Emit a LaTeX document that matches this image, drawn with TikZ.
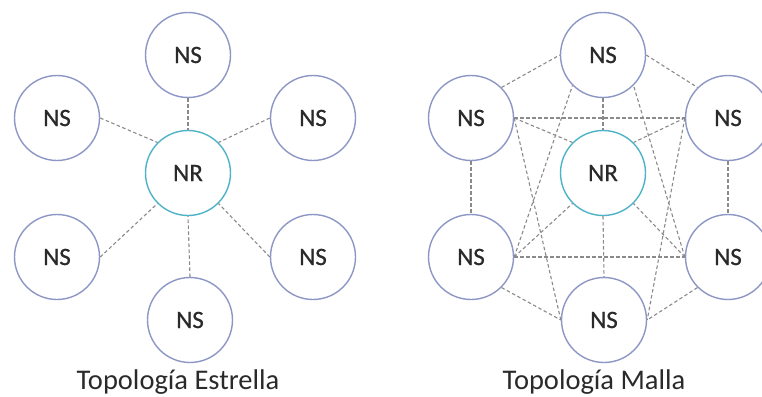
\documentclass[tikz,border=0pt]{standalone}
\usepackage{fontspec}
\setmainfont{Carlito}
\newfontfamily\labelfont[FakeBold=0.6]{Carlito}
\definecolor{nsline}{HTML}{8D97C6}
\definecolor{nrline}{HTML}{4FB3C8}
\definecolor{dashc}{HTML}{8A8A8A}
\definecolor{txt}{HTML}{2A2A2A}
\begin{document}
\begin{tikzpicture}[x=1pt,y=-1pt,
  nsnode/.style={circle,draw=nsline,line width=1.4pt,fill=white,minimum size=85pt,inner sep=0pt,font=\labelfont\fontsize{25}{27}\selectfont,text=txt},
  nrnode/.style={nsnode,draw=nrline},
  link/.style={draw=dashc,line width=1.1pt,dash pattern=on 3.5pt off 2.5pt},
  title/.style={font=\fontsize{28.5}{32}\selectfont,text=txt,anchor=base}]
\useasboundingbox (0,0) rectangle (762,396);
% Star
\node[nsnode] (sT) at (188,55) {NS};
\node[nsnode] (sUL) at (57,118) {NS};
\node[nsnode] (sUR) at (313,118) {NS};
\node[nsnode] (sLL) at (57,257) {NS};
\node[nsnode] (sLR) at (313,257) {NS};
\node[nsnode] (sB) at (190,320) {NS};
\node[nrnode] (sNR) at (188,173) {NR};
\draw[link] (sT.south) -- (sNR.north);
\draw[link] (sUL.east) -- (sNR.north west);
\draw[link] (sUR.west) -- (sNR.north east);
\draw[link] (sLL.east) -- (sNR.south west);
\draw[link] (sLR.west) -- (sNR.south east);
\draw[link] (sB.north) -- (sNR.south);
\node[title] (stitle) at (178,389) {Topología Estrella};
% Mesh
\node[nsnode] (mT) at (603,55) {NS};
\node[nsnode] (mUL) at (471,118) {NS};
\node[nsnode] (mUR) at (728,118) {NS};
\node[nsnode] (mLL) at (471,257) {NS};
\node[nsnode] (mLR) at (728,257) {NS};
\node[nsnode] (mB) at (604,320) {NS};
\node[nrnode] (mNR) at (603,173) {NR};
\draw[link] (mUL.north east) -- (mT.west);
\draw[link] (mT.east) -- (mUR.north west);
\draw[link] (mUL.east) -- (mUR.west);
\draw[link] (mUL.east) -- (mNR.north west);
\draw[link] (mUR.west) -- (mNR.north east);
\draw[link] (mT.south) -- (mNR.north);
\draw[link] (mUL.south) -- (mLL.north);
\draw[link] (mUR.south) -- (mLR.north);
\draw[link] (mLL.east) -- (mLR.west);
\draw[link] (mLL.east) -- (mNR.south west);
\draw[link] (mLR.west) -- (mNR.south east);
\draw[link] (mNR.south) -- (mB.north);
\draw[link] (mLL.south east) -- (mB.west);
\draw[link] (mLR.south west) -- (mB.east);
\draw[link] (mUL.east) -- (mB.west);
\draw[link] (mUR.west) -- (mB.east);
\draw[link] (mLL.east) -- (mT.south west);
\draw[link] (mLR.west) -- (mT.south east);
\node[title] (mtitle) at (594,389) {Topología Malla};
\end{tikzpicture}
\end{document}
